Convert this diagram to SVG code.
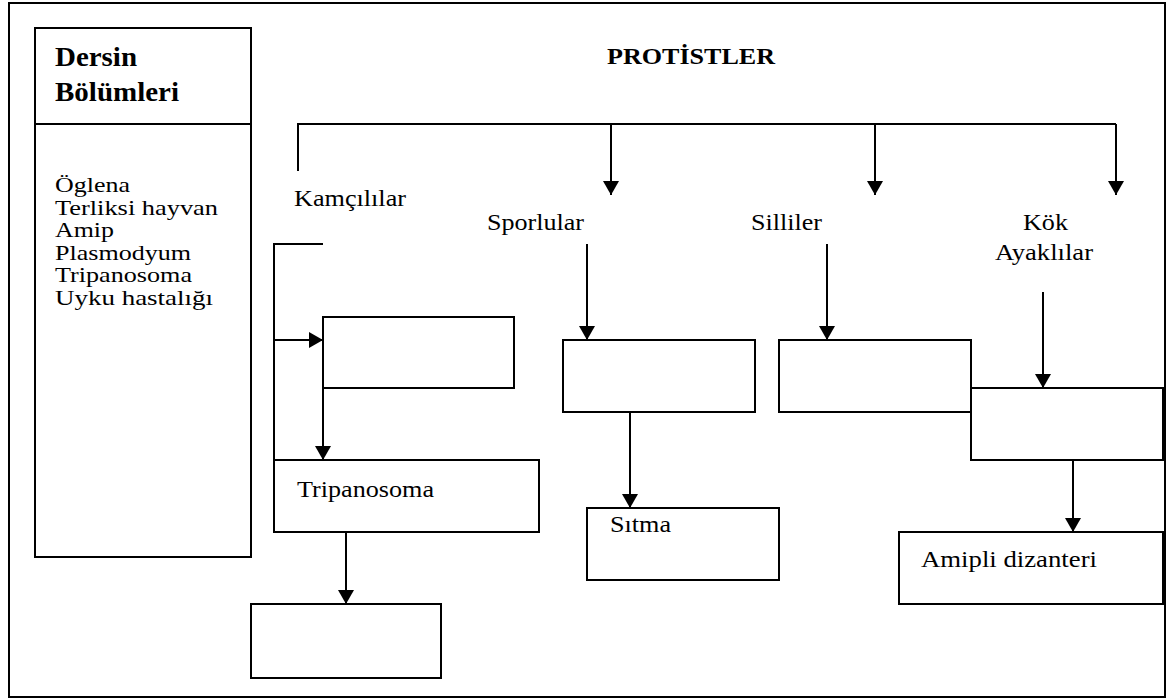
<svg xmlns="http://www.w3.org/2000/svg" width="1176" height="700" viewBox="0 0 1176 700">
  <style>
    .frame { fill: none; stroke: #000; stroke-width: 2; }
    .box { fill: #fff; stroke: #000; stroke-width: 2; }
    .line { fill: none; stroke: #000; stroke-width: 2; }
    .t { font-family: "Liberation Serif", "Times New Roman", serif; font-size: 23.5px; fill: #000; }
    .li { font-family: "Liberation Serif", "Times New Roman", serif; font-size: 21px; fill: #000; }
    .h { font-family: "Liberation Serif", "Times New Roman", serif; font-weight: bold; fill: #000; }
  </style>
  <defs>
    <marker id="arrow" viewBox="0 0 14 16" refX="14" refY="8" markerWidth="14" markerHeight="16" markerUnits="userSpaceOnUse" orient="auto">
      <path d="M0,0 L14,8 L0,16 Z" fill="#000"/>
    </marker>
  </defs>

  <rect width="1176" height="700" fill="#fff"/>
  <!-- outer frame -->
  <rect class="frame" x="9" y="3" width="1156" height="694"/>

  <!-- legend panel: wide type set with textLength -->
  <g id="legend">
    <rect class="box" x="35" y="28" width="216" height="529"/>
    <line class="line" x1="35" y1="124" x2="251" y2="124"/>
    <text class="h" font-size="27" x="55" y="66" textLength="82" lengthAdjust="spacingAndGlyphs">Dersin</text>
    <text class="h" font-size="27" x="55" y="101" textLength="124" lengthAdjust="spacingAndGlyphs">Bölümleri</text>
    <text class="li" x="55" y="192" textLength="75" lengthAdjust="spacingAndGlyphs">Öglena</text>
    <text class="li" x="55" y="214.5" textLength="163" lengthAdjust="spacingAndGlyphs">Terliksi hayvan</text>
    <text class="li" x="55" y="237" textLength="59" lengthAdjust="spacingAndGlyphs">Amip</text>
    <text class="li" x="55" y="259.5" textLength="136" lengthAdjust="spacingAndGlyphs">Plasmodyum</text>
    <text class="li" x="55" y="282" textLength="137" lengthAdjust="spacingAndGlyphs">Tripanosoma</text>
    <text class="li" x="55" y="304.5" textLength="158" lengthAdjust="spacingAndGlyphs">Uyku hastalığı</text>
  </g>

  <g id="title">
    <text class="h" font-size="23.5" x="607" y="64" textLength="168" lengthAdjust="spacingAndGlyphs">PROTİSTLER</text>
  </g>

  <!-- group labels -->
  <g id="kamcililar"><text class="t" x="294" y="206" textLength="112" lengthAdjust="spacingAndGlyphs">Kamçılılar</text></g>
  <g id="sporlular"><text class="t" x="487" y="230" textLength="97" lengthAdjust="spacingAndGlyphs">Sporlular</text></g>
  <g id="silliler"><text class="t" x="751" y="230" textLength="71" lengthAdjust="spacingAndGlyphs">Silliler</text></g>
  <g id="kok-ayaklilar">
    <text class="t" x="1023" y="230" textLength="45" lengthAdjust="spacingAndGlyphs">Kök</text>
    <text class="t" x="995" y="260" textLength="98" lengthAdjust="spacingAndGlyphs">Ayaklılar</text>
  </g>

  <!-- boxes -->
  <g id="box-kamcililar-1"><rect class="box" x="323" y="317" width="191" height="71"/></g>
  <g id="box-tripanosoma">
    <rect class="box" x="274" y="460" width="265" height="72"/>
    <text class="t" x="297" y="497" textLength="137" lengthAdjust="spacingAndGlyphs">Tripanosoma</text>
  </g>
  <g id="box-kamcililar-3"><rect class="box" x="251" y="604" width="190" height="74"/></g>
  <g id="box-sporlular"><rect class="box" x="563" y="340" width="192" height="72"/></g>
  <g id="box-sitma">
    <rect class="box" x="587" y="508" width="192" height="72"/>
    <text class="t" x="610" y="532" textLength="61" lengthAdjust="spacingAndGlyphs">Sıtma</text>
  </g>
  <g id="box-silliler"><rect class="box" x="779" y="340" width="192" height="72"/></g>
  <g id="box-kok"><rect class="box" x="971" y="388" width="192" height="72"/></g>
  <g id="box-amipli">
    <rect class="box" x="899" y="532" width="264" height="72"/>
    <text class="t" x="921" y="567" textLength="176" lengthAdjust="spacingAndGlyphs">Amipli dizanteri</text>
  </g>

  <!-- connectors -->
  <g id="connectors">
    <polyline class="line" points="298,171 298,124 1116,124"/>
    <line class="line" x1="611" y1="124" x2="611" y2="195" marker-end="url(#arrow)"/>
    <line class="line" x1="875" y1="124" x2="875" y2="195" marker-end="url(#arrow)"/>
    <line class="line" x1="1116" y1="124" x2="1116" y2="195" marker-end="url(#arrow)"/>

    <polyline class="line" points="323,244 274,244 274,460"/>
    <line class="line" x1="274" y1="340" x2="323" y2="340" marker-end="url(#arrow)"/>
    <line class="line" x1="323" y1="388" x2="323" y2="460" marker-end="url(#arrow)"/>
    <line class="line" x1="346" y1="532" x2="346" y2="604" marker-end="url(#arrow)"/>

    <line class="line" x1="587" y1="244" x2="587" y2="340" marker-end="url(#arrow)"/>
    <line class="line" x1="630" y1="412" x2="630" y2="508" marker-end="url(#arrow)"/>
    <line class="line" x1="827" y1="244" x2="827" y2="340" marker-end="url(#arrow)"/>
    <line class="line" x1="1043" y1="292" x2="1043" y2="388" marker-end="url(#arrow)"/>
    <line class="line" x1="1073" y1="460" x2="1073" y2="532" marker-end="url(#arrow)"/>
  </g>
</svg>
